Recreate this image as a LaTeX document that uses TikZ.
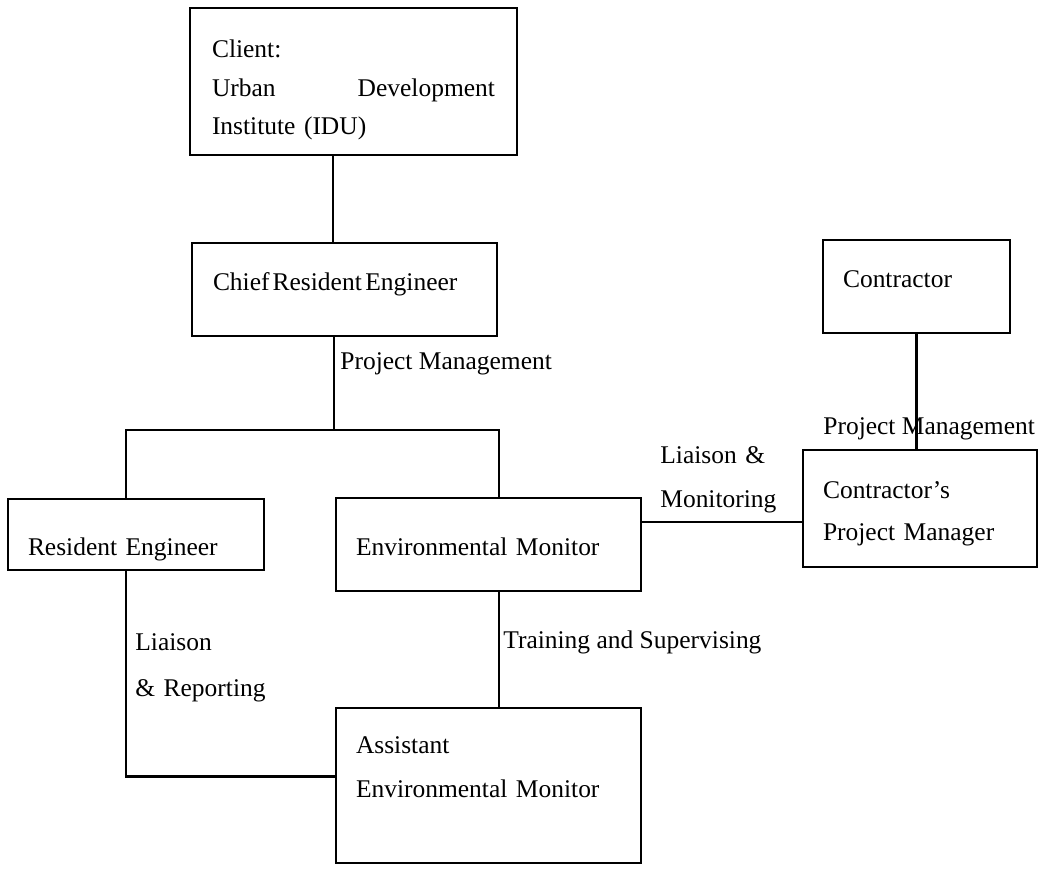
\documentclass[tikz,border=0pt]{standalone}
\usepackage{fontspec}
\setmainfont{Liberation Serif}
\usetikzlibrary{positioning, calc}
\tikzstyle{box} = [rectangle, draw, line width=1.1pt, align=left, inner xsep=0.4cm, inner ysep=0pt, outer sep=0pt, font=\fontsize{14.5pt}{25.5pt}\selectfont]
\tikzstyle{lbl} = [inner sep=0pt, anchor=base west, align=left, font=\fontsize{14.5pt}{25.5pt}\selectfont]
\tikzstyle{link} = [line width=1.4pt, black]

\begin{document}
\begin{tikzpicture}
	\useasboundingbox (0,0) rectangle (20.88,-17.42);

	% Client and supervision staff
	\node (client) [box, anchor=north west, inner xsep=0.44cm, text width=5.66cm, text height=1.0cm, text depth=1.94cm, font=\fontsize{14.5pt}{21.9pt}\selectfont] at (3.8,-0.16) {Client:\\Urban\hfill Development\\Institute (IDU)};
	\node (cre) [box, below right=1.76cm and 0.04cm of client.south west, inner xsep=0.42cm, text width=5.26cm, text height=0.96cm, text depth=0.9cm] {Chief\hspace{0.12em}Resident\hspace{0.14em}Engineer};
	\node (em) [box, below right=3.24cm and 2.88cm of cre.south west, text width=5.3cm, text height=1.14cm, text depth=0.72cm] {Environmental Monitor};
	\node (re) [box, below left=0.02cm and 1.44cm of em.north west, text width=4.32cm, text height=1.12cm, text depth=0.3cm] {Resident Engineer};
	\node (aem) [box, below right=2.34cm and 0cm of em.south west, text width=5.3cm, text height=0.9cm, text depth=2.2cm, font=\fontsize{14.5pt}{25.6pt}\selectfont] {Assistant\\Environmental Monitor};

	% Contractor side
	\node (contractor) [box, below right=-0.06cm and 6.52cm of cre.north east, text width=2.94cm, text height=0.96cm, text depth=0.9cm] {Contractor};
	\node (cpm) [box, below right=2.34cm and -0.4cm of contractor.south west, text width=3.88cm, text height=0.96cm, text depth=1.38cm, font=\fontsize{14.5pt}{23.9pt}\selectfont] {Contractor's\\Project Manager};

	% Line ends
	\coordinate (creTop) at ([xshift=-0.23cm]cre.north);
	\coordinate (creBot) at ([xshift=-0.21cm]cre.south);
	\coordinate (bus) at ([yshift=-1.88cm]creBot);
	\coordinate (reTop) at ([xshift=-0.2cm]re.north);
	\coordinate (reBot) at ([xshift=-0.2cm]re.south);
	\coordinate (emTop) at ([xshift=0.21cm]em.north);
	\coordinate (emBot) at ([xshift=0.21cm]em.south);
	\coordinate (aemIn) at ([yshift=0.18cm]aem.west);
	\coordinate (mon) at ([yshift=-0.27cm]cpm.west);

	% Lines
	\draw[link] (client.south -| creTop) -- (creTop);
	\draw[link] (creBot) -- (bus);
	\draw[link] (reTop) |- (bus) -| (emTop);
	\draw[link] (emBot) -- (emBot |- aem.north);
	\draw[link] (reBot) |- (aemIn);
	\draw[link] (contractor.south) -- (contractor.south |- cpm.north);
	\draw[link] (em.east |- mon) -- (mon);

	% Labels
	\node (pmClient) [lbl] at ([shift={(0.12,-0.68)}]creBot) {Project Management};
	\node (pmContractor) [lbl] at ([yshift=-2.04cm]contractor.south west) {Project Management};
	\node (liaisonMon) [lbl, text width=3cm] at ([shift={(0.38,0.70)}]em.north east) {Liaison \&\\Monitoring};
	\node (training) [lbl] at ([shift={(0.08,-1.14)}]emBot) {Training and Supervising};
	\node (liaisonRep) [lbl, text width=3cm, font=\fontsize{14.5pt}{26.2pt}\selectfont] at ([shift={(0.18,-1.6)}]reBot) {Liaison\\\& Reporting};

\end{tikzpicture}
\end{document}
